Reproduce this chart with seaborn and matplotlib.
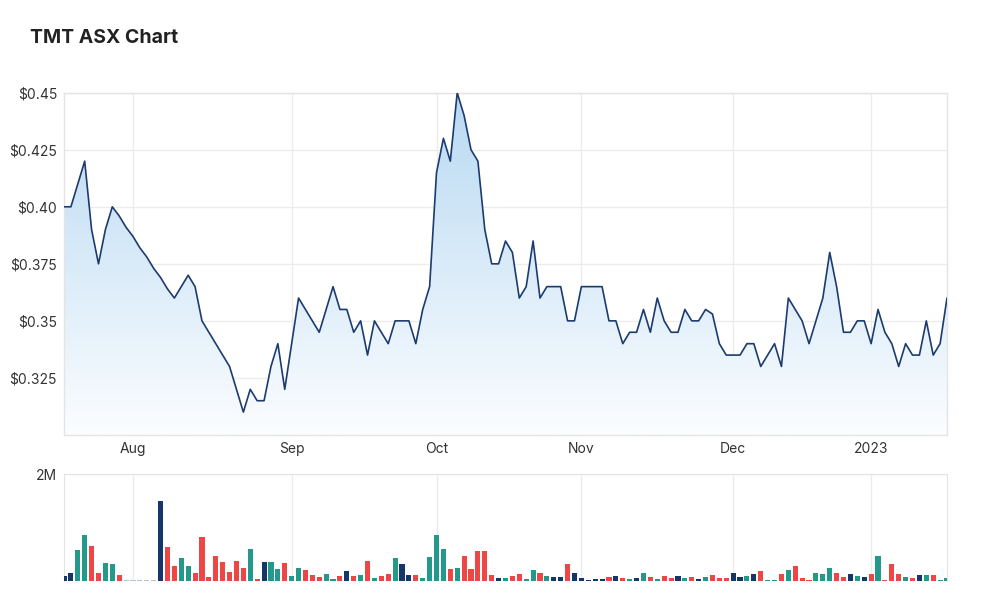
import numpy as np
import pandas as pd
import seaborn as sns
import matplotlib.pyplot as plt
from matplotlib.colors import LinearSegmentedColormap

# daily close (A$), one value per trading day, 18 Jul 2022 .. 18 Jan 2023
price = [0.400, 0.400, 0.410, 0.420, 0.390, 0.375, 0.390, 0.400, 0.396, 0.391,
         0.387, 0.382, 0.378, 0.373, 0.369, 0.364, 0.360, 0.365, 0.370, 0.365,
         0.350, 0.345, 0.340, 0.335, 0.330, 0.320, 0.310, 0.320, 0.315, 0.315,
         0.330, 0.340, 0.320, 0.340, 0.360, 0.355, 0.350, 0.345, 0.355, 0.365,
         0.355, 0.355, 0.345, 0.350, 0.335, 0.350, 0.345, 0.340, 0.350, 0.350,
         0.350, 0.340, 0.355, 0.365, 0.415, 0.430, 0.420, 0.450, 0.440, 0.425,
         0.420, 0.390, 0.375, 0.375, 0.385, 0.380, 0.360, 0.365, 0.385, 0.360,
         0.365, 0.365, 0.365, 0.350, 0.350, 0.365, 0.365, 0.365, 0.365, 0.350,
         0.350, 0.340, 0.345, 0.345, 0.355, 0.345, 0.360, 0.350, 0.345, 0.345,
         0.355, 0.350, 0.350, 0.355, 0.353, 0.340, 0.335, 0.335, 0.335, 0.340,
         0.340, 0.330, 0.335, 0.340, 0.330, 0.360, 0.355, 0.350, 0.340, 0.350,
         0.360, 0.380, 0.365, 0.345, 0.345, 0.350, 0.350, 0.340, 0.355, 0.345,
         0.340, 0.330, 0.340, 0.335, 0.335, 0.350, 0.335, 0.340, 0.360]

# daily volume in millions of shares
volume = [0.09, 0.15, 0.58, 0.86, 0.65, 0.15, 0.33, 0.31, 0.11, 0.00,
          0.00, 0.00, 0.00, 0.00, 1.50, 0.63, 0.28, 0.43, 0.28, 0.15,
          0.83, 0.07, 0.47, 0.36, 0.17, 0.38, 0.25, 0.60, 0.03, 0.35,
          0.35, 0.23, 0.33, 0.09, 0.25, 0.21, 0.11, 0.07, 0.13, 0.03,
          0.09, 0.19, 0.09, 0.11, 0.38, 0.05, 0.09, 0.13, 0.43, 0.31,
          0.11, 0.11, 0.05, 0.45, 0.86, 0.60, 0.23, 0.25, 0.47, 0.23,
          0.56, 0.56, 0.11, 0.05, 0.05, 0.09, 0.13, 0.03, 0.21, 0.15,
          0.09, 0.07, 0.07, 0.31, 0.15, 0.05, 0.01, 0.03, 0.03, 0.07,
          0.09, 0.05, 0.03, 0.05, 0.15, 0.07, 0.03, 0.09, 0.05, 0.09,
          0.05, 0.07, 0.03, 0.07, 0.11, 0.05, 0.05, 0.15, 0.07, 0.09,
          0.13, 0.19, 0.01, 0.01, 0.13, 0.21, 0.29, 0.05, 0.01, 0.15,
          0.13, 0.25, 0.15, 0.07, 0.13, 0.09, 0.07, 0.13, 0.47, 0.01,
          0.31, 0.13, 0.07, 0.05, 0.11, 0.11, 0.11, 0.01, 0.05]

# u = up day, d = down day, f = unchanged, n = no trades
direction = list("ffuudduudn"
                 "nnnnfdduud"
                 "dddddddudf"
                 "uuduuddduu"
                 "dfdududduf"
                 "fduuuududd"
                 "dddfudduud"
                 "uffdfffffd"
                 "fdufududdf"
                 "udfudddffu"
                 "fduududddu"
                 "uuddfufdud"
                 "ddudfuduu")

month_pos = [10, 33, 54, 75, 97, 117]
month_lbl = ["Aug", "Sep", "Oct", "Nov", "Dec", "2023"]

pos = np.arange(len(price))
df = pd.DataFrame({"pos": pos, "price": price, "vol": volume, "dir": direction})
df["bar"] = np.maximum(df["vol"], 0.025)

sns.set_style("white")
plt.rcParams["font.family"] = ["Inter", "DejaVu Sans"]

fig = plt.figure(figsize=(10, 6.1), dpi=100)
ax1 = fig.add_axes([0.064, 0.287, 0.883, 0.561])
ax2 = fig.add_axes([0.064, 0.0475, 0.883, 0.175])

grid_c = "#ececec"
text_c = "#333333"

# gradient area under the price line
cmap = LinearSegmentedColormap.from_list("fade", ["#fbfdff", "#b8d9f2"])
grad = np.linspace(0, 1, 256).reshape(-1, 1)
im = ax1.imshow(grad, extent=[0, 128, 0.30, 0.45], origin="lower",
                aspect="auto", cmap=cmap, zorder=1)
poly = ax1.fill_between(df["pos"], df["price"], 0.30, color="none")
im.set_clip_path(poly.get_paths()[0], transform=ax1.transData)

sns.lineplot(data=df, x="pos", y="price", ax=ax1, color="#1c3b6e",
             linewidth=1.2, zorder=3)

ax1.set_xlim(0, 128)
ax1.set_ylim(0.30, 0.45)
ax1.set_yticks([0.325, 0.35, 0.375, 0.40, 0.425, 0.45])
ax1.set_yticklabels(["$0.325", "$0.35", "$0.375", "$0.40", "$0.425", "$0.45"])
ax1.set_xticks(month_pos)
ax1.set_xticklabels(month_lbl)
ax1.grid(True, color=grid_c, linewidth=1)
ax1.set_xlabel("")
ax1.set_ylabel("")
ax1.tick_params(length=0, labelsize=10, colors=text_c, pad=5)
for s in ax1.spines.values():
    s.set_color("#e4e4e4")
    s.set_linewidth(1)

# volume bars, coloured by the day's move
pal = {"u": "#23998b", "d": "#ee4644", "f": "#153669", "n": "#b9c1d8"}
sns.barplot(data=df, x="pos", y="bar", color=pal["u"], width=0.74,
            errorbar=None, ax=ax2, zorder=3, native_scale=True)
for patch, d in zip(ax2.patches, df["dir"]):
    patch.set_facecolor(pal[d])
    patch.set_edgecolor("none")
ax2.set_xlim(0, 128)
ax2.set_ylim(0, 2.0)
ax2.set_yticks([2.0])
ax2.set_yticklabels(["2M"])
ax2.set_xticks(month_pos)
ax2.set_xticklabels([])
ax2.grid(True, color=grid_c, linewidth=1)
ax2.set_xlabel("")
ax2.set_ylabel("")
ax2.tick_params(length=0, labelsize=10, colors=text_c, pad=5)
for s in ax2.spines.values():
    s.set_color("#e4e4e4")
ax2.spines["bottom"].set_visible(False)

fig.text(0.03, 0.938, "TMT ASX Chart", fontsize=14, fontweight="bold",
         color="#222222", va="center")

fig.savefig("out.png", dpi=100)
